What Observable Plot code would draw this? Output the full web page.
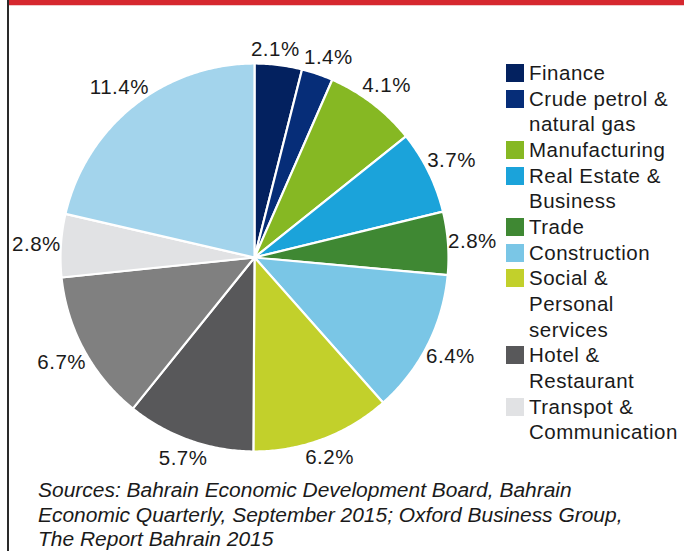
<!DOCTYPE html>
<html><head><meta charset="utf-8">
<script src="https://cdn.jsdelivr.net/npm/d3@7"></script>
<script src="https://cdn.jsdelivr.net/npm/@observablehq/plot@0.6"></script>
<style>
body{margin:0;background:#fff;}
#wrap{position:relative;width:684px;height:551px;overflow:hidden;background:#fff;font-family:"Liberation Sans",Arial,Helvetica,sans-serif;color:#1a1a1a}
#chart{position:absolute;left:0;top:0}
#redbar{position:absolute;left:9px;top:0;width:675px;height:5px;background:#d6282f;border-bottom:1px solid #f1c9cb}
#vline{position:absolute;left:7px;top:0;width:1.5px;height:551px;background:#2a2a2a}
#legend{position:absolute;left:506px;top:60px;font-size:20.5px;line-height:25.65px;letter-spacing:0.5px}
.item{position:relative;padding-left:23px;white-space:nowrap}
.sw{position:absolute;left:0;top:4px;width:18px;height:18px}
#caption{position:absolute;left:38px;top:478.4px;font-size:19.5px;line-height:24.3px;font-style:italic;color:#1a1a1a;white-space:nowrap;transform:scaleX(1.075);transform-origin:0 0}
</style></head><body><div id="wrap"><div id="chart"></div><div id="redbar"></div><div id="vline"></div><div id="legend"></div><div id="caption"></div></div>
<script>
// Slices, clockwise from 12 o'clock
const categories = ["Finance","Crude petrol & natural gas","Manufacturing","Real Estate & Business","Trade","Construction","Social & Personal services","Hotel & Restaurant","Unlabelled (grey)","Transpot & Communication","Unlabelled (pale blue)"];
const values = [2.1, 1.4, 4.1, 3.7, 2.8, 6.4, 6.2, 5.7, 6.7, 2.8, 11.4];
const colors = ["#03215f","#062d78","#86b823","#1ba3da","#3f8833","#7ac6e6","#c2d02b","#58585a","#808080","#e1e2e4","#a3d4ec"];
// Legend entries as printed (two slices have no legend entry)
const legendEntries = ["Finance","Crude petrol & natural gas","Manufacturing","Real Estate & Business","Trade","Construction","Social & Personal services","Hotel & Restaurant","Transpot & Communication"];
const legendLines = [["Finance"],["Crude petrol &","natural gas"],["Manufacturing"],["Real Estate &","Business"],["Trade"],["Construction"],["Social &","Personal","services"],["Hotel &","Restaurant"],["Transpot &","Communication"]];
const captionLines = ["Sources: Bahrain Economic Development Board, Bahrain","Economic Quarterly, September 2015; Oxford Business Group,","The Report Bahrain 2015"];

const table = categories.map((c, i) => ({cat: c, value: values[i]}));
const arcs = d3.pie().sort(null).value(d => d.value)(table);

// outline points of each slice (unit circle, angle 0 at top, clockwise)
const outline = arcs.flatMap(a => {
  const n = Math.max(4, Math.ceil((a.endAngle - a.startAngle) / 0.01));
  const pts = [{cat: a.data.cat, x: 0, y: 0}];
  for (let k = 0; k <= n; k++) {
    const t = a.startAngle + (a.endAngle - a.startAngle) * k / n;
    pts.push({cat: a.data.cat, x: Math.sin(t), y: Math.cos(t)});
  }
  pts.push({cat: a.data.cat, x: 0, y: 0});
  return pts;
});

// label placement: just outside the rim at the slice's mid-angle, nudged apart if boxes collide
const R = 194, HW = 25, HH = 9;
const dist = m => R + 5 + 19 * Math.abs(Math.sin(m)) + 8 * Math.abs(Math.cos(m));
const labels = arcs.map(a => ({value: a.data.value, m: (a.startAngle + a.endAngle) / 2}));
const px = l => ({x: dist(l.m) * Math.sin(l.m), y: -dist(l.m) * Math.cos(l.m)});
for (let it = 0; it < 400; it++) {
  let moved = false;
  for (let i = 0; i < labels.length; i++) {
    const a = labels[i], b = labels[(i + 1) % labels.length];
    const p = px(a), q = px(b);
    if (Math.abs(p.x - q.x) < 2 * HW + 3 && Math.abs(p.y - q.y) < 2 * HH) {
      a.m -= 0.002; b.m += 0.002; moved = true;
    }
  }
  if (!moved) break;
}
labels.forEach(l => { const p = px(l); l.x = p.x / R; l.y = -p.y / R; });

const W = 684, H = 470, cx = 254, cy = 257;
const plot = Plot.plot({
  width: W, height: H,
  marginLeft: cx - R, marginRight: W - (cx + R),
  marginTop: cy - R, marginBottom: H - (cy + R),
  x: {domain: [-1, 1], axis: null},
  y: {domain: [-1, 1], axis: null},
  color: {domain: categories, range: colors},
  style: {background: "transparent", overflow: "visible"},
  marks: [
    Plot.line(outline, {x: "x", y: "y", z: "cat", fill: "cat", stroke: "white", strokeWidth: 2.2, strokeLinejoin: "round", curve: "linear"}),
    Plot.text(labels, {
      x: "x", y: "y",
      text: l => l.value.toFixed(1) + "%",
      fontSize: 20.5, fill: "#1a1a1a", fontFamily: "Liberation Sans, Arial, sans-serif",
      textAnchor: "middle", lineAnchor: "middle"
    })
  ]
});
plot.querySelectorAll("text").forEach(t => t.style.letterSpacing = "0.5px");
document.getElementById("chart").appendChild(plot);

const color = plot.scale("color");
const cmap = new Map(color.domain.map((d, i) => [d, color.range[i]]));
const legend = document.getElementById("legend");
legendEntries.forEach((name, i) => {
  const it = document.createElement("div");
  it.className = "item";
  const sw = document.createElement("div");
  sw.className = "sw";
  sw.style.background = cmap.get(name);
  it.appendChild(sw);
  legendLines[i].forEach(l => { const s = document.createElement("div"); s.textContent = l; it.appendChild(s); });
  legend.appendChild(it);
});
const cap = document.getElementById("caption");
captionLines.forEach(l => { const s = document.createElement("div"); s.textContent = l; cap.appendChild(s); });
</script>
</body></html>
